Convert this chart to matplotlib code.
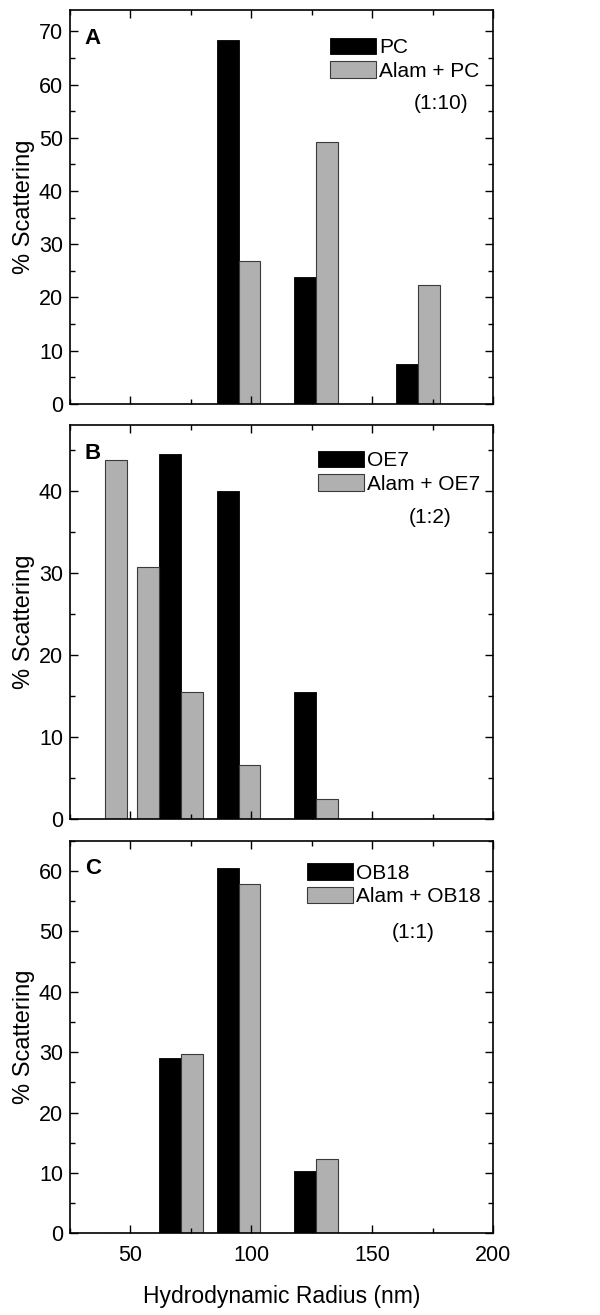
import numpy as np
import matplotlib
matplotlib.use("Agg")
import matplotlib.pyplot as plt
from matplotlib.ticker import MultipleLocator

plt.rcParams['font.family'] = ['Liberation Sans', 'DejaVu Sans']

# bin centres (nm) and bar width
centres = [39.5, 52.7, 70.9, 94.8, 126.7, 169.0]
bar_w = 9.0

# panel A: PC / Alam + PC (1:10)
a_black = [0, 0, 0, 68.4, 23.9, 7.6]
a_gray = [0, 0, 0, 26.9, 49.2, 22.3]
# panel B: OE7 / Alam + OE7 (1:2)
b_black = [0, 0, 44.5, 40.0, 15.4, 0]
b_gray = [43.7, 30.7, 15.4, 6.5, 2.4, 0]
# panel C: OB18 / Alam + OB18 (1:1)
c_black = [0, 0, 29.1, 60.4, 10.4, 0]
c_gray = [0, 0, 29.7, 57.8, 12.3, 0]

panels = [
    ("A", a_black, a_gray, "PC", "Alam + PC", "(1:10)", 74, [0, 10, 20, 30, 40, 50, 60, 70]),
    ("B", b_black, b_gray, "OE7", "Alam + OE7", "(1:2)", 48, [0, 10, 20, 30, 40]),
    ("C", c_black, c_gray, "OB18", "Alam + OB18", "(1:1)", 65, [0, 10, 20, 30, 40, 50, 60]),
]

# axes boxes [left, bottom, width, height] in figure fraction
boxes = [[0.1167, 0.6928, 0.705, 0.2996],
         [0.1167, 0.3774, 0.705, 0.2994],
         [0.1167, 0.0620, 0.705, 0.2987]]
leg_pos = [(0.615, 0.93), (0.586, 0.935), (0.56, 0.943)]
ratio_pos = [(0.878, 0.762), (0.851, 0.765), (0.812, 0.766)]

fig = plt.figure(figsize=(6, 13.15), dpi=100)
c = np.array(centres)
for i, (letter, blk, gry, lab1, lab2, ratio, ytop, yt) in enumerate(panels):
    ax = fig.add_axes(boxes[i])
    ax.bar(c - bar_w, blk, width=bar_w, align='edge', color='black',
           edgecolor='black', linewidth=0.6, label=lab1)
    ax.bar(c, gry, width=bar_w, align='edge', color='#b0b0b0',
           edgecolor='#3a3a3a', linewidth=0.8, label=lab2)
    ax.set_xlim(25, 200)
    ax.set_ylim(0, ytop)
    ax.set_yticks(yt)
    ax.xaxis.set_major_locator(MultipleLocator(50))
    ax.xaxis.set_minor_locator(MultipleLocator(25))
    ax.yaxis.set_minor_locator(MultipleLocator(5))
    ax.tick_params(which='both', direction='in', top=True, right=True, labelsize=15.5)
    ax.tick_params(which='major', length=6, width=1)
    ax.tick_params(which='minor', length=3.5, width=1)
    ax.tick_params(axis='x', pad=8)
    ax.tick_params(axis='y', pad=5)
    for s in ax.spines.values():
        s.set_linewidth(1.2)
    ax.set_ylabel("% Scattering", fontsize=17, labelpad=3)
    if i < 2:
        ax.set_xticklabels([])
    else:
        ax.set_xlabel("Hydrodynamic Radius (nm)", fontsize=16.5, labelpad=14)
    ax.text(0.035, 0.955, letter, transform=ax.transAxes, fontsize=16,
            fontweight='bold', ha='left', va='top')
    ax.legend(loc='upper left', bbox_to_anchor=leg_pos[i], frameon=False,
              fontsize=15, handlelength=2.2, handleheight=0.85,
              handletextpad=0.15, labelspacing=0.2, borderpad=0,
              borderaxespad=0)
    ax.text(ratio_pos[i][0], ratio_pos[i][1], ratio, transform=ax.transAxes,
            fontsize=15, ha='center', va='center')

fig.savefig("out.png", dpi=100)
